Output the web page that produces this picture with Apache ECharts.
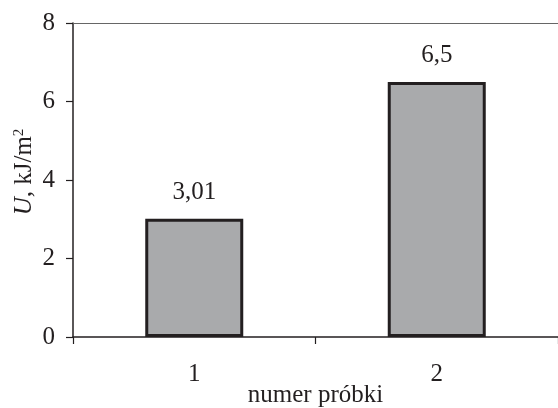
<!DOCTYPE html>
<html>
<head>
<meta charset="utf-8">
<script src="https://cdn.jsdelivr.net/npm/echarts@6/dist/echarts.min.js"></script>
<style>html,body{margin:0;padding:0;background:#fff}#c{width:558px;height:408px}</style>
</head>
<body>
<div id="c"></div>
<script>
const categories = ['1', '2'];
const values = [3.01, 6.5];
const yTicks = [0, 2, 4, 6, 8];
const xName = 'numer próbki';

const font = 'Liberation Serif';
const ink = '#231f20';
const fs = 25;
const chart = echarts.init(document.getElementById('c'), null, {renderer: 'canvas'});
chart.setOption({
  animation: false,
  backgroundColor: '#fff',
  grid: {left: 73, right: 0, top: 23, bottom: 71, containLabel: false, outerBoundsMode: 'none'},
  xAxis: [{
    type: 'category',
    data: categories,
    position: 'bottom',
    name: xName,
    nameLocation: 'middle',
    nameGap: 46,
    nameMoveOverlap: false,
    nameTextStyle: {fontFamily: font, fontSize: fs, color: ink},
    axisLine: {show: true, onZero: false, lineStyle: {color: ink, width: 1.5}},
    axisTick: {show: true, length: 7, lineStyle: {color: ink, width: 1.2}},
    axisLabel: {fontFamily: font, fontSize: fs, color: ink, margin: 25},
    splitLine: {show: false}
  }, {
    type: 'category',
    data: categories,
    position: 'top',
    axisLine: {show: true, onZero: false, lineStyle: {color: '#666', width: 1.2}},
    axisTick: {show: false},
    axisLabel: {show: false},
    splitLine: {show: false}
  }],
  yAxis: {
    type: 'value',
    min: yTicks[0],
    max: yTicks[yTicks.length - 1],
    interval: yTicks[1] - yTicks[0],
    name: '{i|U}{n|, kJ/m}{s|2}',
    nameLocation: 'middle',
    nameGap: 36,
    nameMoveOverlap: false,
    nameRotate: 90,
    nameTextStyle: {
      fontFamily: font, fontSize: fs, color: ink,
      padding: [0, 0, 0, 16],
      rich: {
        i: {fontFamily: font, fontSize: fs, fontStyle: 'italic', color: ink},
        n: {fontFamily: font, fontSize: fs, color: ink},
        s: {fontFamily: font, fontSize: 15, color: ink, verticalAlign: 'top', padding: [0, 0, 10, 0]}
      }
    },
    axisLine: {show: true, lineStyle: {color: ink, width: 1.5}},
    axisTick: {show: true, length: 7, lineStyle: {color: ink, width: 1.2}},
    axisLabel: {fontFamily: font, fontSize: fs, color: ink, margin: 18},
    splitLine: {show: false}
  },
  series: [{
    type: 'bar',
    data: values,
    barWidth: 98,
    itemStyle: {color: '#a9aaac', borderColor: ink, borderWidth: 3},
    label: {
      show: true,
      position: 'top',
      distance: 14,
      fontFamily: font,
      fontSize: fs,
      color: ink,
      formatter: p => String(p.value).replace('.', ',')
    }
  }]
});
</script>
</body>
</html>
